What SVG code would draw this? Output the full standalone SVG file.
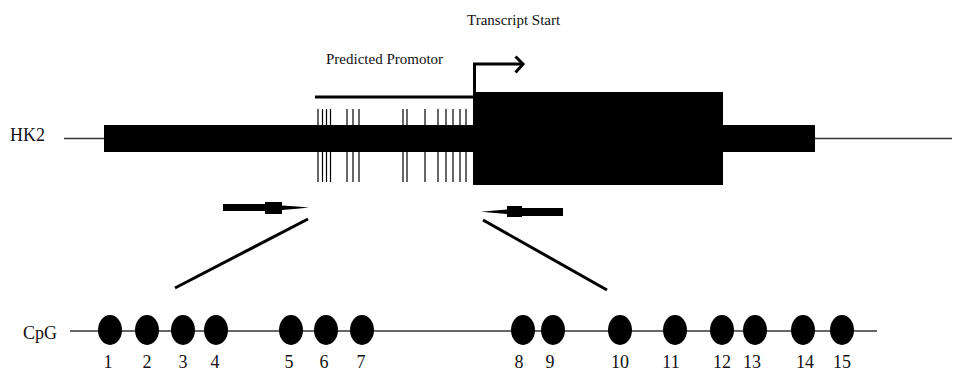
<svg xmlns="http://www.w3.org/2000/svg" width="958" height="372" viewBox="0 0 958 372">
<style>
  .t { font-family: "Liberation Serif", "Times New Roman", serif; fill: #111; }
  .lbl { font-size: 18px; }
  .cap { font-size: 15px; }
  .num { font-size: 18px; text-anchor: middle; }
  .thin { stroke: #333; stroke-width: 1.5; fill: none; }
  .tick { stroke: #000; stroke-width: 1.2; }
  .thick { stroke: #000; stroke-width: 3; fill: none; }
  .dot { fill: #000; }
</style>
<rect width="958" height="372" fill="#fff"/>

<g id="hk2-gene">
  <text class="t lbl" x="10" y="141">HK2</text>
  <line class="thin" x1="64" y1="138.5" x2="104" y2="138.5"/>
  <line class="thin" x1="815" y1="138.5" x2="952" y2="138.5"/>
  <rect x="104" y="125" width="711" height="27" fill="#000"/>
  <rect x="473" y="92" width="250" height="93" fill="#000"/>
</g>

<g id="cpg-ticks">
  <line class="tick" x1="318" y1="109" x2="318" y2="182"/>
  <line class="tick" x1="322.5" y1="109" x2="322.5" y2="182"/>
  <line class="tick" x1="326.5" y1="109" x2="326.5" y2="182"/>
  <line class="tick" x1="330.5" y1="109" x2="330.5" y2="182"/>
  <line class="tick" x1="347" y1="109" x2="347" y2="182"/>
  <line class="tick" x1="353" y1="109" x2="353" y2="182"/>
  <line class="tick" x1="359" y1="109" x2="359" y2="182"/>
  <line class="tick" x1="403" y1="109" x2="403" y2="182"/>
  <line class="tick" x1="407" y1="109" x2="407" y2="182"/>
  <line class="tick" x1="425" y1="109" x2="425" y2="182"/>
  <line class="tick" x1="438" y1="109" x2="438" y2="182"/>
  <line class="tick" x1="446" y1="109" x2="446" y2="182"/>
  <line class="tick" x1="453" y1="109" x2="453" y2="182"/>
  <line class="tick" x1="460" y1="109" x2="460" y2="182"/>
  <line class="tick" x1="466" y1="109" x2="466" y2="182"/>
</g>

<g id="promoter">
  <text class="t cap" x="326" y="64">Predicted Promotor</text>
  <line class="thick" x1="315" y1="97" x2="473" y2="97"/>
</g>

<g id="transcript-start">
  <text class="t cap" x="467" y="25">Transcript Start</text>
  <polyline class="thick" points="474.5,93 474.5,64 522,64"/>
  <polyline class="thick" points="515.5,56.5 523,64 515.5,72.5"/>
</g>

<g id="primers">
  <polygon fill="#000" points="223,204 265,204 265,202 282,202 282,205.5 297,206.5 309,207.5 297,208.8 282,210 282,214 265,214 265,211 223,211"/>
  <polygon fill="#000" points="563,208 522,208 522,206 507,206 507,209.5 495,210.5 481,211.7 495,213 507,214 507,217 522,217 522,216 563,216"/>
</g>

<g id="connectors">
  <line class="thick" x1="308" y1="219" x2="175" y2="288"/>
  <line class="thick" x1="483" y1="220" x2="607" y2="290"/>
</g>

<g id="cpg-sites">
  <text class="t lbl" x="23" y="339">CpG</text>
  <line class="thin" x1="70" y1="331" x2="877" y2="331"/>
  <ellipse class="dot" cx="110" cy="330" rx="12" ry="15"/>
  <ellipse class="dot" cx="147" cy="330" rx="12" ry="15"/>
  <ellipse class="dot" cx="183" cy="330" rx="12" ry="15"/>
  <ellipse class="dot" cx="216" cy="330" rx="12" ry="15"/>
  <ellipse class="dot" cx="291" cy="330" rx="12" ry="15"/>
  <ellipse class="dot" cx="326" cy="330" rx="12" ry="15"/>
  <ellipse class="dot" cx="362" cy="330" rx="12" ry="15"/>
  <ellipse class="dot" cx="523" cy="330" rx="12" ry="15"/>
  <ellipse class="dot" cx="553" cy="330" rx="12" ry="15"/>
  <ellipse class="dot" cx="620" cy="330" rx="12" ry="15"/>
  <ellipse class="dot" cx="675" cy="330" rx="12" ry="15"/>
  <ellipse class="dot" cx="722" cy="330" rx="12" ry="15"/>
  <ellipse class="dot" cx="755" cy="330" rx="12" ry="15"/>
  <ellipse class="dot" cx="803" cy="330" rx="12" ry="15"/>
  <ellipse class="dot" cx="842" cy="330" rx="12" ry="15"/>
  <text class="t num" x="108" y="368">1</text>
  <text class="t num" x="147" y="368">2</text>
  <text class="t num" x="183" y="368">3</text>
  <text class="t num" x="215" y="368">4</text>
  <text class="t num" x="289" y="368">5</text>
  <text class="t num" x="324" y="368">6</text>
  <text class="t num" x="361" y="368">7</text>
  <text class="t num" x="519" y="368">8</text>
  <text class="t num" x="550" y="368">9</text>
  <text class="t num" x="620" y="368">10</text>
  <text class="t num" x="671" y="368">11</text>
  <text class="t num" x="722" y="368">12</text>
  <text class="t num" x="752" y="368">13</text>
  <text class="t num" x="805" y="368">14</text>
  <text class="t num" x="842" y="368">15</text>
</g>
</svg>
